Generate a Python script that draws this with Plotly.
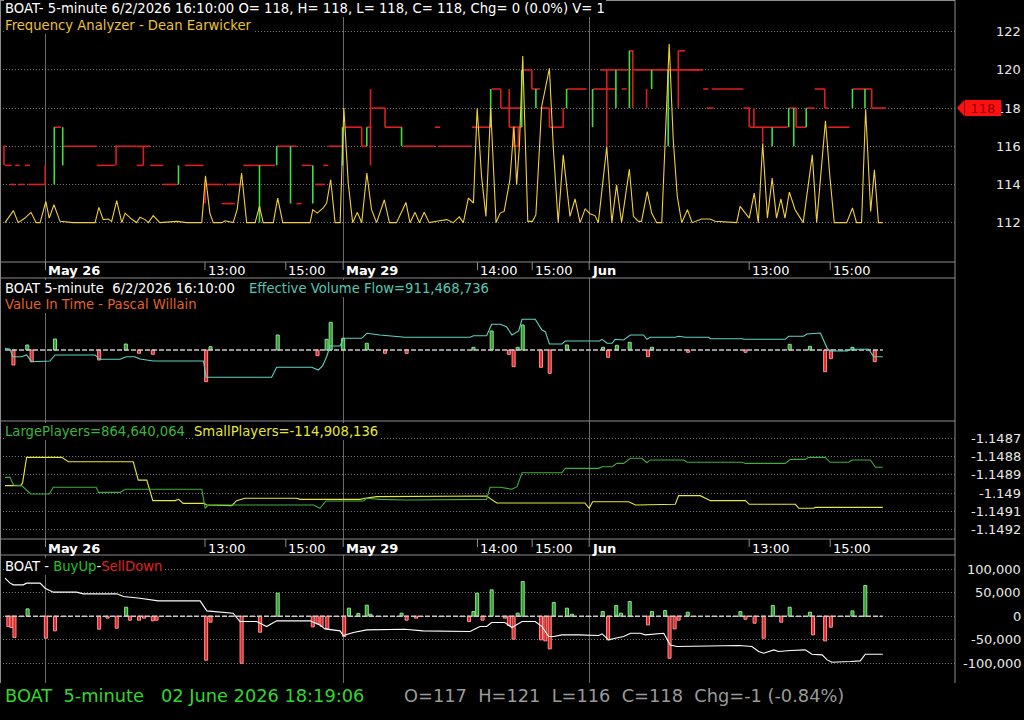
import plotly.graph_objects as go

W, H = 1024, 720
FONT = "Verdana, 'DejaVu Sans', sans-serif"

# ---------------- DATA ----------------
# x = 5-minute bar index (0 = first bar on screen)
time_tick_pos = [12, 59.25, 83.2, 100.2, 140, 156.2, 173.1, 220.5, 244.5]
time_tick_text = ["<b>May 26</b>", "13:00", "15:00", "<b>May 29</b>", "14:00", "15:00",
                  "<b>Jun</b>", "13:00", "15:00"]
day_break_pos = [12, 100.2, 173.1]

# Panel 1 : price axis + Frequency Analyzer
price_ticks = [112, 114, 116, 118, 120, 122]
price_tick_text = ["112", "114", "116", "118", "120", "122"]
last_price = 118

freq_analyzer = [
    (0, 112.0), (2.5, 112.63), (3.9, 112.0), (5.9, 112.24), (7.7, 112.54), (9.2, 112.0), (10.4, 112.0),
    (12.1, 113.11), (13.1, 112.24), (14.5, 112.94), (16.3, 112.07), (20.2, 112.0), (26.7, 112.0),
    (27.8, 112.8), (29.1, 112.16), (30.6, 112.19), (31.6, 112.07), (33.1, 113.15), (34.6, 112.0),
    (35.6, 112.5), (37.5, 112.19), (39.0, 112.0), (40.0, 112.28), (41.5, 112.16), (42.5, 112.0),
    (43.9, 112.37), (45.9, 112.0), (50.9, 112.07), (53.8, 112.0), (58.3, 112.0), (59.4, 114.45),
    (60.7, 112.5), (61.7, 112.0), (64.2, 112.0), (65.2, 112.1), (67.6, 112.0), (68.8, 112.7),
    (70.1, 114.6), (71.6, 112.0), (74.1, 112.0), (75.4, 112.85), (76.5, 112.0), (79.5, 112.0),
    (80.8, 113.29), (82.3, 112.0), (90.4, 112.0), (91.2, 112.68), (92.5, 112.5), (94.3, 112.77),
    (95.3, 113.03), (96.5, 114.25), (97.8, 112.0), (99.3, 112.0), (100.4, 118.0), (101.7, 114.07),
    (103.0, 112.0), (104.4, 112.54), (105.7, 112.0), (107.2, 114.6), (108.6, 112.68), (110.1, 112.0),
    (112.4, 113.2), (113.9, 112.0), (116.0, 112.0), (118.8, 113.06), (120.0, 112.0), (121.5, 112.54),
    (122.8, 112.0), (124.2, 112.54), (125.7, 112.0), (127.9, 112.07), (130.9, 112.16), (132.8, 112.0),
    (134.6, 112.3), (135.8, 112.0), (137.3, 113.29), (138.8, 113.03), (139.9, 117.99), (141.2, 114.42),
    (142.5, 112.33), (143.9, 117.99), (144.7, 114.77), (145.5, 112.0), (146.7, 112.5), (147.9, 112.59),
    (149.6, 114.25), (150.8, 117.03), (151.6, 113.98), (152.4, 115.98), (153.4, 120.72), (154.1, 116.86),
    (154.9, 112.07), (156.3, 112.07), (157.3, 112.42), (159.0, 118.07), (161.3, 120.08), (162.5, 115.81),
    (163.9, 112.0), (165.4, 115.55), (167.4, 112.33), (168.9, 113.24), (170.4, 112.0), (171.9, 112.72),
    (173.3, 112.47), (174.8, 112.37), (175.8, 112.0), (178.3, 115.98), (179.8, 112.0), (181.2, 113.98),
    (182.7, 112.0), (185.0, 114.8), (186.2, 112.33), (187.7, 112.07), (188.6, 112.07), (190.3, 113.63),
    (191.6, 112.5), (193.1, 112.0), (194.6, 112.0), (196.8, 121.35), (198.0, 116.33), (199.2, 113.37),
    (200.5, 112.0), (202.2, 112.68), (203.6, 112.0), (206.4, 112.19), (208.9, 112.19), (210.4, 112.07),
    (216.8, 112.0), (217.8, 112.85), (220.5, 112.24), (222.0, 113.55), (223.2, 112.0), (224.5, 116.16),
    (225.9, 112.24), (227.3, 114.33), (228.6, 112.24), (229.9, 113.24), (231.1, 112.24), (232.4, 113.6),
    (234.1, 112.68), (236.5, 112.0), (239.2, 115.55), (240.5, 112.0), (243.1, 117.34), (244.4, 114.42),
    (245.7, 112.0), (249.4, 112.0), (251.1, 112.77), (252.3, 112.0), (253.8, 112.0), (255.0, 117.94),
    (256.5, 112.59), (257.6, 114.77), (258.8, 112.0), (260.1, 112.0),
]

# step levels: horizontal (x0, x1, price), vertical (x, from, to)
step_red_h = [
    (-0.5, 0.3, 116), (-0.1, 2.0, 115), (3.0, 4.4, 115), (5.9, 7.4, 115), (1.5, 3.0, 114), (4.0, 5.9, 114),
    (6.9, 11.9, 114), (14.6, 16.6, 117), (17.5, 27.2, 116), (27.2, 32.6, 115), (32.6, 39.0, 116),
    (39.0, 43.0, 116), (39.0, 41.0, 115), (43.0, 46.9, 115), (46.7, 50.9, 114), (53.3, 58.8, 115),
    (58.8, 64.2, 114), (64.2, 68.1, 113), (65.7, 70.5, 114), (70.6, 80.0, 115), (80.5, 86.4, 116),
    (86.4, 87.9, 113), (87.9, 90.9, 115), (91.9, 94.8, 114), (94.3, 95.8, 115), (95.8, 100.2, 116),
    (100.7, 105.7, 117), (105.7, 107.2, 116), (107.2, 108.6, 117), (108.6, 112.6, 118), (112.6, 117.5, 117),
    (118.0, 127.4, 116), (127.4, 128.9, 117), (128.4, 138.3, 116), (138.3, 143.9, 117), (144.2, 146.9, 119),
    (146.9, 153.1, 118), (149.4, 153.1, 117), (150.6, 152.1, 116), (153.4, 156.1, 120), (156.1, 158.5, 119),
    (158.5, 161.3, 118), (161.3, 165.6, 117), (166.4, 172.3, 119), (174.3, 181.2, 119), (176.3, 184.7, 120),
    (182.7, 184.2, 119), (185.0, 186.2, 121), (186.2, 205.9, 120), (199.5, 201.5, 121), (203.0, 206.9, 120),
    (206.9, 208.4, 119), (209.4, 218.8, 119), (207.9, 209.9, 118), (218.8, 220.7, 118), (220.7, 227.2, 117),
    (227.3, 231.9, 117), (232.2, 234.4, 118), (234.4, 237.4, 117), (237.4, 239.9, 118), (239.9, 242.9, 119),
    (242.9, 243.9, 118), (243.9, 250.2, 117), (251.1, 256.8, 119), (256.8, 261.0, 118),
]
step_green_v = [
    (14.6, 114, 117), (17.1, 117, 115), (51.4, 114, 115), (75.4, 112, 115), (80.5, 115, 116), (84.6, 113, 116),
    (91.2, 113, 115), (100.0, 115, 117), (107.2, 116, 117), (117.5, 116, 117), (143.9, 117, 119),
    (153.1, 117, 120), (157.3, 119, 118), (166.4, 118, 119), (174.1, 117, 119), (181.0, 118, 120),
    (185.0, 118, 121), (191.6, 119, 120), (196.5, 116, 120), (227.3, 116, 117), (232.2, 117, 118),
    (233.7, 116, 118), (237.4, 117, 118), (251.1, 118, 119), (254.8, 118, 119),
]
step_red_v = [
    (-0.3, 116, 115), (11.9, 115, 114), (32.9, 116, 115), (41.0, 116, 115), (59.3, 114, 113),
    (105.7, 117, 116), (108.3, 119, 115), (112.6, 118, 117), (146.9, 119, 118), (149.4, 119, 117),
    (150.6, 117, 116), (152.1, 117, 116), (156.1, 120, 119), (161.3, 118, 117), (165.4, 118, 117),
    (178.3, 120, 116), (186.0, 121, 118), (190.1, 119, 118), (199.5, 121, 118), (220.5, 118, 117),
    (221.9, 118, 117), (224.5, 117, 116.2), (234.4, 118, 117), (242.9, 119, 118), (256.8, 119, 118),
]

# Panel 2 : Effective Volume Flow (line) + Value In Time (bars), unscaled units
evf = [
    (0, 1.7), (1.5, 0.7), (2.3, -6.7), (4.9, -6.7), (6.4, -5), (7.9, -11.7), (13.3, -11), (14.8, -5),
    (26.7, -5), (28.1, -9.3), (34.1, -9.3), (35.9, -6.7), (38.5, -6.7), (40.0, -9), (43.9, -11), (58.8, -11),
    (59.6, -27.3), (79.0, -27.3), (80.5, -17.3), (90.9, -17.3), (92.8, -20), (94.1, -16), (95.3, -6.7),
    (96.3, 4), (99.3, 4), (100.2, 11.7), (105.7, 11.7), (107.2, 16.7), (111.1, 15), (118.5, 12.7),
    (137.8, 12.7), (138.8, 14.3), (142.7, 14.3), (144.2, 25.7), (146.7, 25.7), (148.6, 23.3), (150.2, 15),
    (152.2, 19), (153.2, 30.7), (157.1, 30.7), (159.1, 20), (160.1, 18.3), (161.3, 6), (165.0, 6), (166.0, 9),
    (176.1, 9), (176.9, 10.7), (178.4, 6.7), (179.9, 6.7), (180.8, 10.7), (183.3, 10), (185.3, 15),
    (189.2, 15), (190.2, 10.7), (191.2, 12.7), (198.6, 12.7), (199.6, 13.7), (201.6, 12.7), (208.5, 12.7),
    (209.0, 11.3), (218.4, 11.3), (218.9, 10.7), (231.2, 10.7), (232.2, 13.7), (236.6, 13.7), (237.6, 16),
    (241.6, 17), (243.6, 1.7), (244.5, -1), (249.5, -1), (251.0, 0.7), (255.9, 0.7), (257.4, -6.7),
    (260.1, -6.7),
]
value_in_time = [
    (2.5, -15), (6.6, 5), (7.9, -11.7), (14.8, 11), (27.9, -10), (35.8, 6), (39.7, -3.3), (43.8, -4.3),
    (59.6, -31.7), (60.9, 3.3), (80.8, 15), (92.6, -5.7), (95.3, 10.7), (96.5, 27.7), (100.2, 11.7),
    (107.2, 6.7), (112.6, -3.3), (119.0, -3.3), (138.8, 2.7), (144.2, 19), (149.3, -4.3), (150.7, -16.7),
    (151.9, 2.7), (153.4, 25), (158.8, -17.3), (161.4, -23.3), (166.5, 5), (177.2, 2.7), (178.7, -7.3),
    (181.3, 4.7), (185.1, 7.7), (190.5, -6.7), (191.7, 2.7), (202.4, -2.3), (219.4, -2.3), (232.5, 5.7),
    (238.5, 3.7), (243.0, -21.7), (244.7, -8.7), (251.1, 2.7), (257.7, -11.7),
]

# Panel 3 : Large / Small players
lp_ticks = [-1.1487, -1.1488, -1.1489, -1.149, -1.1491, -1.1492]
lp_tick_text = ["-1.1487", "-1.1488", "-1.1489", "-1.149", "-1.1491", "-1.1492"]
large_players = [
    (0, -1.148913), (1.5, -1.148913), (2.5, -1.148955), (4.9, -1.148958), (7.6, -1.149004), (13.1, -1.149004),
    (14.3, -1.148967), (27.0, -1.148967), (27.7, -1.148995), (34.1, -1.148995), (35.6, -1.148978),
    (58.3, -1.148978), (59.3, -1.149082), (60.2, -1.149064), (91.4, -1.149064), (93.3, -1.149082),
    (95.1, -1.149042), (106.2, -1.149042), (107.2, -1.149027), (111.1, -1.149033), (118.5, -1.149037),
    (142.7, -1.149033), (143.7, -1.148967), (146.7, -1.148967), (150.2, -1.148978), (151.7, -1.148964),
    (153.2, -1.148888), (165.0, -1.148888), (166.0, -1.148864), (175.9, -1.148864), (176.9, -1.148855),
    (179.9, -1.148855), (181.3, -1.148837), (183.3, -1.148837), (185.3, -1.148809), (188.7, -1.148809),
    (190.2, -1.148833), (191.2, -1.148818), (201.1, -1.148818), (202.1, -1.148831), (218.4, -1.148831),
    (219.4, -1.148837), (231.2, -1.148837), (232.7, -1.148815), (237.1, -1.148815), (238.1, -1.148804),
    (243.0, -1.148804), (244.5, -1.148831), (250.0, -1.148831), (251.0, -1.148818), (256.4, -1.148818),
    (257.9, -1.148858), (260.1, -1.148858),
]
small_players = [
    (0, -1.148958), (4.6, -1.148958), (5.2, -1.148945), (6.4, -1.148804), (16.8, -1.148804),
    (18.8, -1.148828), (38.0, -1.148828), (39.5, -1.148928), (42.0, -1.148928), (43.8, -1.14904),
    (50.4, -1.14904), (51.4, -1.149033), (52.8, -1.149055), (59.0, -1.149055), (59.8, -1.149064),
    (63.7, -1.149064), (67.2, -1.149067), (68.6, -1.14904), (71.1, -1.149027), (86.4, -1.149027),
    (87.4, -1.149033), (105.2, -1.149033), (106.7, -1.149027), (110.1, -1.149018), (126.9, -1.149015),
    (142.7, -1.149015), (145.7, -1.149053), (171.8, -1.149053), (173.1, -1.149082), (174.1, -1.149046),
    (184.8, -1.149046), (186.8, -1.149064), (198.6, -1.14906), (199.6, -1.149013), (206.0, -1.149013),
    (209.0, -1.14904), (219.4, -1.14904), (220.5, -1.14906), (234.2, -1.14906), (235.2, -1.149082),
    (239.6, -1.149082), (240.1, -1.149077), (260.1, -1.149077),
]

# Panel 4 : BuyUp - SellDown
bs_ticks = [100000, 50000, 0, -50000, -100000]
bs_tick_text = ["100,000", "50,000", "0", "-50,000", "-100,000"]
buy_sell_line = [
    (0, 80700), (1.5, 70100), (2.5, 66500), (5.4, 66500), (6.4, 70100), (10.4, 70100), (11.9, 59400),
    (14.3, 51000), (21.2, 51000), (23.2, 47400), (33.1, 47400), (35.1, 41800), (40.0, 38200),
    (45.4, 32600), (57.8, 32600), (59.8, 11300), (67.6, 6400), (69.6, -11300), (74.6, -11300),
    (77.5, -21900), (80.5, -9900), (90.4, -9900), (93.3, -18400), (94.8, -26900), (99.3, -31100),
    (100.2, -41000), (103.2, -34700), (107.2, -29000), (118.5, -27600), (123.9, -31100), (137.8, -32600),
    (140.7, -21900), (142.7, -21900), (144.2, -13400), (148.1, -13400), (150.2, -24100), (153.2, -11300),
    (157.1, -11300), (159.1, -21900), (161.1, -43200), (162.6, -43200), (165.0, -39600), (170.0, -39600),
    (175.9, -41000), (176.9, -37500), (178.9, -50200), (180.8, -46700), (183.3, -43200), (185.3, -36100),
    (188.2, -36100), (189.7, -39600), (195.2, -36100), (197.1, -60900), (199.1, -64400), (217.4, -62300),
    (221.3, -64400), (223.3, -75000), (224.8, -78600), (227.8, -71500), (229.2, -75000), (232.7, -72900),
    (237.1, -71500), (239.1, -80700), (242.1, -82100), (243.6, -92700), (245.0, -97700), (250.5, -96200),
    (253.4, -94800), (254.9, -80700), (260.1, -80700),
]
buy_sell_bars = [
    (1.0, -21900), (1.9, -24000), (2.8, -45300), (6.7, 15600), (12.1, -46700), (14.8, -31100),
    (27.9, -27600), (30.4, -4200), (33.1, -25500), (35.9, 19100), (37.0, -8500), (39.7, -8500),
    (41.2, -4200), (43.8, -9900), (44.9, -8500), (59.6, -93400), (60.9, -12700), (70.1, -99800),
    (75.6, -34000), (80.8, 48800), (91.2, -22600), (92.6, -16300), (93.8, -21900), (95.5, -26900),
    (100.5, -43200), (101.9, 17000), (104.7, 5700), (107.2, 23400), (108.3, 4200), (117.5, 6400),
    (119.0, -8500), (121.8, -4200), (137.5, -11300), (138.8, 9900), (139.9, 48800), (141.5, -8500),
    (144.2, 55900), (148.1, -4200), (149.3, -19800), (150.7, -48800), (151.9, 6400), (153.4, 73600),
    (158.8, -50200), (160.1, -52400), (161.4, -69400), (162.6, 29000), (166.5, 17000), (168.0, 4200),
    (177.1, 9900), (178.7, -50200), (181.1, 22600), (182.5, 6400), (185.1, 31100), (190.5, -18400),
    (191.7, 9900), (195.6, 12000), (196.9, -89200), (198.4, -26900), (199.6, -8500), (202.3, 8500),
    (217.9, 9900), (219.4, -6400), (222.1, -14900), (224.8, -46700), (227.5, 22600), (230.0, -12700),
    (232.5, 19100), (238.5, 8500), (239.4, -39600), (243.0, -52400), (244.7, -23400), (251.1, 11300),
    (254.9, 65100),
]

# ---------------- LAYOUT GEOMETRY (pixels) ----------------
PLOT_R = 955
PX_FIRST, PX_PER_BAR = 5, 3.375
X_RANGE = [-PX_FIRST / PX_PER_BAR, (PLOT_R - PX_FIRST) / PX_PER_BAR]
panels = {  # top, bottom in px
    1: (0, 262), 2: (278, 421), 3: (421, 539), 4: (555, 683)}
ranges = {1: [109.94, 123.66], 2: [-71, 72], 3: [-1.1492494, -1.1486056], 4: [-141700, 129800]}


def py(ypx):
    return 1 - ypx / H


def xs(pairs):
    return [p[0] for p in pairs]


def ys(pairs):
    return [p[1] for p in pairs]


fig = go.Figure()

# ---- panel 1 ----
rx, ry = [], []
for x0, x1, lv in step_red_h:
    rx += [x0, x1, None]; ry += [lv, lv, None]
for x, a, b in step_red_v:
    rx += [x, x, None]; ry += [a, b, None]
gx, gy = [], []
for x, a, b in step_green_v:
    gx += [x, x, None]; gy += [a, b, None]
fig.add_trace(go.Scatter(x=rx, y=ry, mode="lines", line=dict(color="#dc1e1e", width=1.6),
                         xaxis="x", yaxis="y", connectgaps=False))
fig.add_trace(go.Scatter(x=gx, y=gy, mode="lines", line=dict(color="#3ee03e", width=1.6),
                         xaxis="x", yaxis="y", connectgaps=False))
fig.add_trace(go.Scatter(x=xs(freq_analyzer), y=ys(freq_analyzer), mode="lines",
                         line=dict(color="#f2cf3a", width=1.1), xaxis="x", yaxis="y"))

# ---- panel 2 ----
fig.add_trace(go.Scatter(x=[xs(evf)[0], xs(evf)[-1]], y=[0, 0], mode="lines",
                         line=dict(color="#c8c8c8", width=1.5, dash="5px,2px"), xaxis="x2", yaxis="y2"))
vit_v = ys(value_in_time)
fig.add_trace(go.Bar(x=xs(value_in_time), y=vit_v, width=0.9,
                     marker=dict(color=["#2e9e2e" if v > 0 else "#e02828" for v in vit_v],
                                 line=dict(color=["#8fe08f" if v > 0 else "#ff9090" for v in vit_v], width=1)),
                     xaxis="x2", yaxis="y2"))
fig.add_trace(go.Scatter(x=xs(evf), y=ys(evf), mode="lines", line=dict(color="#5fd3c2", width=1.1),
                         xaxis="x2", yaxis="y2"))

# ---- panel 3 ----
fig.add_trace(go.Scatter(x=xs(small_players), y=ys(small_players), mode="lines",
                         line=dict(color="#e8e83a", width=1.1), xaxis="x3", yaxis="y3"))
fig.add_trace(go.Scatter(x=xs(large_players), y=ys(large_players), mode="lines",
                         line=dict(color="#3fae3f", width=1.1), xaxis="x3", yaxis="y3"))

# ---- panel 4 ----
fig.add_trace(go.Scatter(x=[xs(buy_sell_line)[0], xs(buy_sell_line)[-1]], y=[0, 0], mode="lines",
                         line=dict(color="#c8c8c8", width=1.5, dash="5px,2px"), xaxis="x4", yaxis="y4"))
bs_v = ys(buy_sell_bars)
fig.add_trace(go.Bar(x=xs(buy_sell_bars), y=bs_v, width=0.9,
                     marker=dict(color=["#2e9e2e" if v > 0 else "#e02828" for v in bs_v],
                                 line=dict(color=["#8fe08f" if v > 0 else "#ff9090" for v in bs_v], width=1)),
                     xaxis="x4", yaxis="y4"))
fig.add_trace(go.Scatter(x=xs(buy_sell_line), y=ys(buy_sell_line), mode="lines",
                         line=dict(color="#ffffff", width=1.1), xaxis="x4", yaxis="y4"))

# ---- axes ----
GRID_V = "#6a6a6a"
GRID_H = "#787878"
layout_axes = {}
ytick_sets = {1: price_ticks, 2: [], 3: lp_ticks, 4: bs_ticks}
for k in (1, 2, 3, 4):
    sx = "" if k == 1 else str(k)
    top, bot = panels[k]
    layout_axes["xaxis" + sx] = dict(domain=[0, PLOT_R / W], range=X_RANGE, anchor="y" + sx,
                                     tickvals=day_break_pos, showticklabels=False, showgrid=True,
                                     gridcolor=GRID_V, gridwidth=1, zeroline=False, showline=False,
                                     ticks="", fixedrange=True)
    layout_axes["yaxis" + sx] = dict(domain=[py(bot), py(top)], range=ranges[k], anchor="x" + sx,
                                     tickvals=ytick_sets[k], showticklabels=False,
                                     showgrid=bool(ytick_sets[k]), gridcolor=GRID_H, gridwidth=1,
                                     griddash="1px,2px", zeroline=False, showline=False, ticks="",
                                     fixedrange=True)

# ---- shapes: borders and strip ticks ----
shapes = []
BORDER = "#8c8c8c"
for ypx in [0.5, 262, 278, 421, 539, 555]:
    shapes.append(dict(type="line", xref="paper", yref="paper", x0=0, x1=PLOT_R / W, y0=py(ypx), y1=py(ypx),
                       line=dict(color=BORDER, width=1)))
for xpx in [0.5, PLOT_R]:
    shapes.append(dict(type="line", xref="paper", yref="paper", x0=xpx / W, x1=xpx / W, y0=py(0), y1=py(683),
                       line=dict(color=BORDER, width=1)))
for pos in time_tick_pos:
    for ytop in (262, 539):
        shapes.append(dict(type="line", xref="x", yref="paper", x0=pos, x1=pos, y0=py(ytop), y1=py(ytop + 8),
                           line=dict(color=BORDER, width=1)))
# price tag arrow tip
shapes.append(dict(type="path", xref="paper", yref="y", layer="above",
                   path=f"M {957 / W},{last_price} L {964.5 / W},{last_price + 0.44} "
                        f"L {964.5 / W},{last_price - 0.44} Z",
                   fillcolor="#ff1010", line=dict(width=0)))

# ---- annotations ----
ann = []
HS = 13.2   # header font size
BS = 17.8   # bottom status font size


def text(xpx, ypx, s, color, size=HS, anchor="left"):
    ann.append(dict(xref="paper", yref="paper", x=xpx / W, y=py(ypx), xanchor=anchor, yanchor="middle",
                    text=s, showarrow=False, font=dict(family=FONT, size=size, color=color),
                    bgcolor="black", borderpad=1, borderwidth=0))


NB = "\u00a0"
text(4, 9, "BOAT- 5-minute 6/2/2026 16:10:00 O= 118, H= 118, L= 118, C= 118, Chg= 0 (0.0%) V= 1", "#ffffff")
text(4, 26, "Frequency Analyzer - Dean Earwicker", "#ecc23a")
text(4, 288, f"BOAT 5-minute{NB}{NB}6/2/2026 16:10:00", "#ffffff")
text(248, 288, "Effective Volume Flow=911,468,736", "#4fc9b5")
text(4, 304, "Value In Time - Pascal Willain", "#e0622a")
text(4, 431, "LargePlayers=864,640,064", "#3cb43c")
text(193, 431, "SmallPlayers=-114,908,136", "#e6e632")
text(4, 566, "BOAT - <span style='color:#22c422'>BuyUp</span>-<span style='color:#e02020'>SellDown</span>",
     "#ffffff")
text(4, 695, f"BOAT{NB}{NB}5-minute{NB}{NB}{NB}02 June 2026 18:19:06", "#2ed82e", size=BS)
text(403, 695, f"O=117{NB}{NB}H=121{NB}{NB}L=116{NB}{NB}C=118{NB}{NB}Chg=-1 (-0.84%)", "#9a9a9a", size=BS)

# time labels in both strips
for pos, lab in zip(time_tick_pos, time_tick_text):
    for yc in (270, 548):
        ann.append(dict(xref="x", yref="paper", x=pos + 0.5, y=py(yc), xanchor="left", yanchor="middle",
                        text=lab, showarrow=False, font=dict(family=FONT, size=13, color="#ffffff"),
                        borderpad=1, borderwidth=0))

# right-hand value labels
for yref, vals, labs in (("y", price_ticks, price_tick_text), ("y3", lp_ticks, lp_tick_text),
                         ("y4", bs_ticks, bs_tick_text)):
    for v, lab in zip(vals, labs):
        ann.append(dict(xref="paper", yref=yref, x=1021.5 / W, y=v, xanchor="right", yanchor="middle",
                        text=lab, showarrow=False, font=dict(family=FONT, size=13, color="#e8e8e8"),
                        borderpad=1, borderwidth=0))

# last price tag
ann.append(dict(xref="paper", yref="y", x=982.5 / W, y=last_price, xanchor="center", yanchor="middle",
                text=str(last_price), showarrow=False, font=dict(family=FONT, size=13, color="#8a0000"),
                bgcolor="#ff1010", width=36, height=16, borderpad=0, borderwidth=0))

fig.update_layout(
    width=W, height=H, margin=dict(l=0, r=0, t=0, b=0, autoexpand=False),
    paper_bgcolor="black", plot_bgcolor="black", showlegend=False, barmode="overlay",
    shapes=shapes, annotations=ann, **layout_axes,
)

fig.write_html("out.html", config={"displayModeBar": False})
